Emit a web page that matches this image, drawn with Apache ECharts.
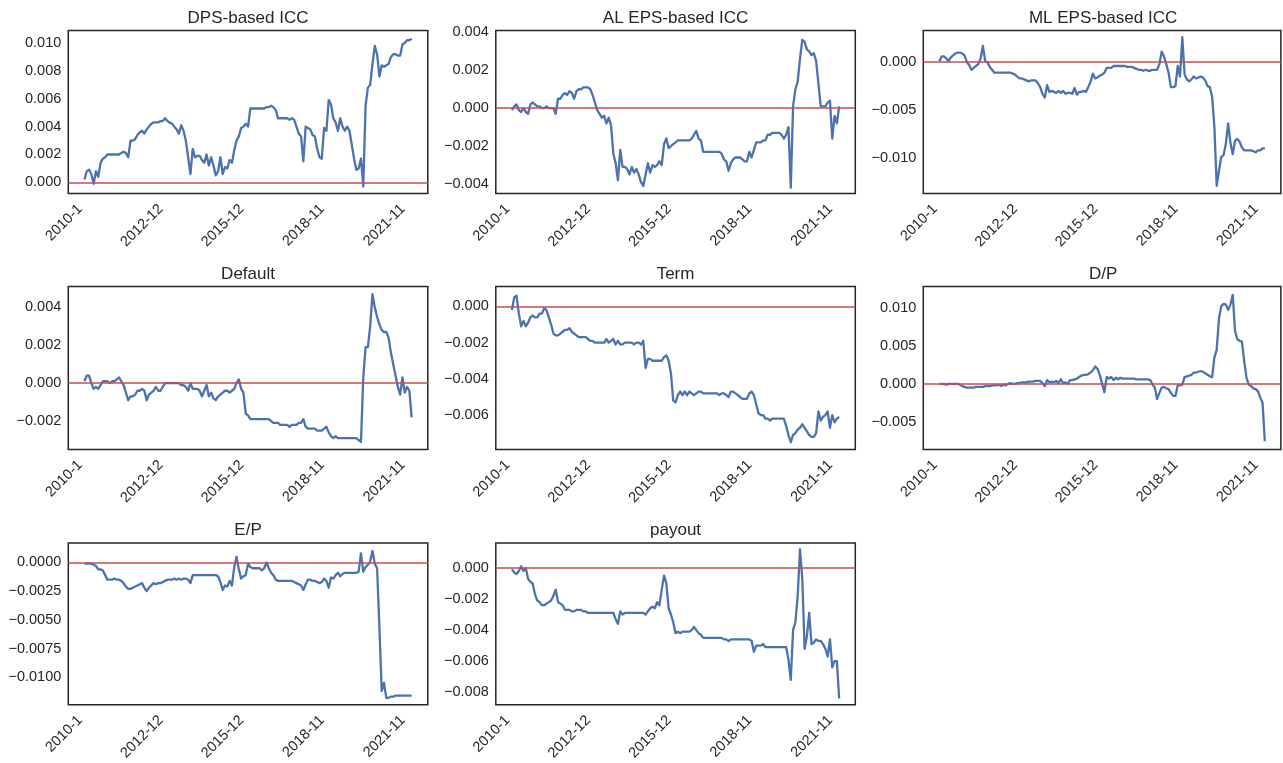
<!DOCTYPE html>
<html>
<head>
<meta charset="utf-8">
<script src="https://cdn.jsdelivr.net/npm/echarts@6/dist/echarts.min.js"></script>
<style>
  html, body { margin: 0; padding: 0; background: #ffffff; }
  #chart { width: 1283px; height: 763px; }
</style>
</head>
<body>
<div id="chart"></div>
<script>
// Monthly series, one value per month starting 2010-1 (143 observations).
const tickLabels = ['2010-1', '2012-12', '2015-12', '2018-11', '2021-11'];
const tickEvery = 35;

const dpsIcc = [
  0.0002, 0.0008, 0.0009, 0.0006, -0.0001, 0.0008, 0.0004, 0.0014, 0.0017, 0.0018,
  0.0020, 0.0020, 0.0020, 0.0020, 0.0020, 0.0020, 0.0021, 0.0022, 0.0021, 0.0018,
  0.0030, 0.0030, 0.0031, 0.0034, 0.0036, 0.0037, 0.0035, 0.0038, 0.0040, 0.0042,
  0.0043, 0.0043, 0.0043, 0.0044, 0.0044, 0.0046, 0.0044, 0.0043, 0.0042, 0.0040,
  0.0038, 0.0035, 0.0041, 0.0037, 0.0030, 0.0018, 0.0006, 0.0024, 0.0018, 0.0019,
  0.0019, 0.0016, 0.0014, 0.0020, 0.0012, 0.0018, 0.0012, 0.0005, 0.0008, 0.0018,
  0.0006, 0.0011, 0.0010, 0.0016, 0.0014, 0.0023, 0.0030, 0.0033, 0.0039, 0.0040,
  0.0042, 0.0040, 0.0053, 0.0053, 0.0053, 0.0053, 0.0053, 0.0053, 0.0053, 0.0054,
  0.0054, 0.0055, 0.0054, 0.0052, 0.0046, 0.0046, 0.0046, 0.0046, 0.0046, 0.0045,
  0.0046, 0.0045, 0.0040, 0.0035, 0.0033, 0.0015, 0.0040, 0.0039, 0.0038, 0.0034,
  0.0033, 0.0024, 0.0018, 0.0017, 0.0039, 0.0037, 0.0059, 0.0056, 0.0046, 0.0043,
  0.0037, 0.0046, 0.0040, 0.0037, 0.0040, 0.0037, 0.0027, 0.0017, 0.0009, 0.0010,
  0.0017, -0.0003, 0.0055, 0.0068, 0.0070, 0.0085, 0.0098, 0.0092, 0.0076, 0.0084,
  0.0083, 0.0084, 0.0085, 0.0090, 0.0092, 0.0092, 0.0091, 0.0091, 0.0099, 0.0100,
  0.0102, 0.0102, 0.0103
];

const alEpsIcc = [
  -0.0001, 0.0001, 0.0002, -0.0001, -0.0002, 0.0000, -0.0002, -0.0003, 0.0002, 0.0003,
  0.0002, 0.0001, 0.0001, 0.0000, 0.0000, 0.0001, 0.0000, 0.0000, 0.0000, -0.0003,
  0.0005, 0.0005, 0.0007, 0.0008, 0.0007, 0.0009, 0.0008, 0.0005, 0.0009, 0.0010,
  0.0010, 0.0011, 0.0011, 0.0011, 0.0010, 0.0007, 0.0003, -0.0001, -0.0003, -0.0005,
  -0.0004, -0.0008, -0.0005, -0.0009, -0.0024, -0.0029, -0.0038, -0.0022, -0.0031, -0.0031,
  -0.0032, -0.0035, -0.0031, -0.0034, -0.0032, -0.0035, -0.0039, -0.0041, -0.0035, -0.0029,
  -0.0034, -0.0030, -0.0031, -0.0030, -0.0028, -0.0030, -0.0019, -0.0016, -0.0021, -0.0020,
  -0.0019, -0.0018, -0.0017, -0.0017, -0.0017, -0.0017, -0.0017, -0.0017, -0.0016, -0.0014,
  -0.0012, -0.0016, -0.0017, -0.0023, -0.0023, -0.0023, -0.0023, -0.0023, -0.0023, -0.0023,
  -0.0023, -0.0024, -0.0027, -0.0028, -0.0033, -0.0029, -0.0027, -0.0026, -0.0026, -0.0026,
  -0.0027, -0.0028, -0.0028, -0.0023, -0.0026, -0.0022, -0.0018, -0.0018, -0.0018, -0.0017,
  -0.0017, -0.0014, -0.0014, -0.0013, -0.0013, -0.0013, -0.0013, -0.0014, -0.0016, -0.0014,
  -0.0010, -0.0042, 0.0001, 0.0010, 0.0014, 0.0026, 0.0036, 0.0035, 0.0031, 0.0030,
  0.0028, 0.0029, 0.0025, 0.0013, 0.0001, 0.0001, 0.0001, 0.0003, 0.0004, -0.0016,
  -0.0004, -0.0008, 0.0001
];

const mlEpsIcc = [
  0.0001, 0.0006, 0.0006, 0.0004, 0.0001, 0.0005, 0.0007, 0.0009, 0.0010, 0.0010,
  0.0009, 0.0007, 0.0000, -0.0003, -0.0008, -0.0006, -0.0004, -0.0002, 0.0004, 0.0017,
  0.0001, 0.0000, -0.0005, -0.0008, -0.0011, -0.0011, -0.0011, -0.0011, -0.0011, -0.0011,
  -0.0011, -0.0011, -0.0012, -0.0013, -0.0015, -0.0017, -0.0017, -0.0018, -0.0019, -0.0020,
  -0.0019, -0.0019, -0.0019, -0.0022, -0.0026, -0.0033, -0.0037, -0.0024, -0.0031, -0.0030,
  -0.0031, -0.0032, -0.0030, -0.0032, -0.0030, -0.0033, -0.0032, -0.0032, -0.0033, -0.0027,
  -0.0034, -0.0031, -0.0031, -0.0030, -0.0031, -0.0026, -0.0020, -0.0012, -0.0017, -0.0016,
  -0.0014, -0.0013, -0.0011, -0.0006, -0.0006, -0.0006, -0.0004, -0.0004, -0.0004, -0.0004,
  -0.0004, -0.0004, -0.0005, -0.0005, -0.0005, -0.0006, -0.0007, -0.0008, -0.0008, -0.0009,
  -0.0008, -0.0009, -0.0009, -0.0008, -0.0008, -0.0008, -0.0002, 0.0011, 0.0006, -0.0002,
  -0.0011, -0.0026, -0.0026, -0.0025, -0.0004, -0.0015, 0.0026, -0.0013, -0.0018, -0.0020,
  -0.0018, -0.0015, -0.0017, -0.0016, -0.0015, -0.0016, -0.0019, -0.0025, -0.0026, -0.0036,
  -0.0068, -0.0129, -0.0113, -0.0099, -0.0097, -0.0085, -0.0064, -0.0084, -0.0096, -0.0082,
  -0.0080, -0.0083, -0.0089, -0.0092, -0.0092, -0.0092, -0.0092, -0.0093, -0.0094, -0.0092,
  -0.0092, -0.0090, -0.0090
];

const defaultSpread = [
  0.0001, 0.0004, 0.0004, 0.0000, -0.0003, -0.0002, -0.0003, -0.0001, 0.0001, 0.0001,
  0.0001, 0.0000, 0.0001, 0.0001, 0.0002, 0.0003, 0.0001, -0.0001, -0.0005, -0.0009,
  -0.0007, -0.0007, -0.0006, -0.0004, -0.0004, -0.0003, -0.0004, -0.0009, -0.0006, -0.0005,
  -0.0004, -0.0002, -0.0004, -0.0004, -0.0002, 0.0000, 0.0000, 0.0000, 0.0000, 0.0000,
  0.0000, 0.0000, -0.0001, -0.0001, -0.0002, -0.0004, 0.0000, -0.0003, -0.0003, -0.0003,
  -0.0004, -0.0007, -0.0004, -0.0001, -0.0007, -0.0005, -0.0008, -0.0009, -0.0007, -0.0006,
  -0.0005, -0.0004, -0.0004, -0.0005, -0.0004, -0.0003, 0.0000, 0.0002, -0.0003, -0.0005,
  -0.0016, -0.0017, -0.0019, -0.0019, -0.0019, -0.0019, -0.0019, -0.0019, -0.0019, -0.0019,
  -0.0019, -0.0020, -0.0021, -0.0021, -0.0021, -0.0022, -0.0022, -0.0022, -0.0022, -0.0023,
  -0.0022, -0.0022, -0.0022, -0.0021, -0.0021, -0.0019, -0.0023, -0.0024, -0.0024, -0.0024,
  -0.0024, -0.0025, -0.0025, -0.0025, -0.0024, -0.0023, -0.0026, -0.0028, -0.0029, -0.0028,
  -0.0029, -0.0029, -0.0029, -0.0029, -0.0029, -0.0029, -0.0029, -0.0029, -0.0029, -0.0030,
  -0.0031, 0.0003, 0.0019, 0.0019, 0.0030, 0.0047, 0.0040, 0.0035, 0.0031, 0.0028,
  0.0027, 0.0027, 0.0024, 0.0016, 0.0010, 0.0004, -0.0002, -0.0006, 0.0003, -0.0005,
  -0.0002, -0.0004, -0.0018
];

const termSpread = [
  -0.0002, 0.0005, 0.0006, -0.0004, -0.0011, -0.0008, -0.0011, -0.0009, -0.0006, -0.0005,
  -0.0006, -0.0006, -0.0004, -0.0004, -0.0001, -0.0002, -0.0006, -0.0010, -0.0015, -0.0016,
  -0.0016, -0.0015, -0.0014, -0.0013, -0.0013, -0.0012, -0.0014, -0.0015, -0.0016, -0.0017,
  -0.0017, -0.0017, -0.0017, -0.0018, -0.0019, -0.0019, -0.0020, -0.0020, -0.0020, -0.0020,
  -0.0020, -0.0018, -0.0020, -0.0019, -0.0018, -0.0021, -0.0019, -0.0021, -0.0021, -0.0020,
  -0.0020, -0.0020, -0.0020, -0.0021, -0.0020, -0.0020, -0.0021, -0.0019, -0.0034, -0.0029,
  -0.0029, -0.0030, -0.0030, -0.0030, -0.0030, -0.0030, -0.0028, -0.0027, -0.0030, -0.0037,
  -0.0052, -0.0053, -0.0049, -0.0047, -0.0049, -0.0047, -0.0049, -0.0047, -0.0048, -0.0049,
  -0.0048, -0.0047, -0.0047, -0.0048, -0.0048, -0.0048, -0.0048, -0.0048, -0.0048, -0.0048,
  -0.0049, -0.0048, -0.0048, -0.0049, -0.0050, -0.0047, -0.0047, -0.0048, -0.0049, -0.0050,
  -0.0051, -0.0051, -0.0051, -0.0048, -0.0047, -0.0049, -0.0054, -0.0059, -0.0060, -0.0060,
  -0.0062, -0.0062, -0.0063, -0.0062, -0.0062, -0.0062, -0.0062, -0.0062, -0.0062, -0.0066,
  -0.0071, -0.0075, -0.0071, -0.0070, -0.0068, -0.0067, -0.0065, -0.0067, -0.0069, -0.0071,
  -0.0072, -0.0072, -0.0070, -0.0058, -0.0063, -0.0061, -0.0060, -0.0058, -0.0067, -0.0060,
  -0.0064, -0.0062, -0.0061
];

const dividendPrice = [
  0.0000, 0.0000, 0.0000, -0.0001, 0.0000, 0.0000, 0.0000, 0.0000, 0.0000, -0.0001,
  -0.0003, -0.0004, -0.0005, -0.0005, -0.0005, -0.0005, -0.0004, -0.0004, -0.0004, -0.0004,
  -0.0003, -0.0003, -0.0003, -0.0002, -0.0002, -0.0002, -0.0001, -0.0003, -0.0001, -0.0002,
  0.0000, 0.0001, 0.0000, 0.0000, 0.0001, 0.0001, 0.0002, 0.0002, 0.0002, 0.0003,
  0.0003, 0.0003, 0.0004, 0.0004, 0.0004, 0.0001, -0.0003, 0.0005, 0.0002, 0.0003,
  0.0002, 0.0004, 0.0001, 0.0006, 0.0001, 0.0002, 0.0000, 0.0005, 0.0005, 0.0006,
  0.0007, 0.0009, 0.0011, 0.0012, 0.0012, 0.0013, 0.0015, 0.0018, 0.0023, 0.0020,
  0.0012, 0.0000, -0.0011, 0.0009, 0.0007, 0.0009, 0.0005, 0.0008, 0.0006, 0.0008,
  0.0007, 0.0007, 0.0007, 0.0007, 0.0007, 0.0007, 0.0006, 0.0006, 0.0006, 0.0006,
  0.0006, 0.0006, 0.0005, -0.0001, -0.0005, -0.0020, -0.0012, -0.0005, -0.0004, -0.0006,
  -0.0007, -0.0012, -0.0016, -0.0016, -0.0002, -0.0002, -0.0001, 0.0009, 0.0010, 0.0011,
  0.0012, 0.0015, 0.0015, 0.0016, 0.0017, 0.0016, 0.0014, 0.0012, 0.0010, 0.0009,
  0.0035, 0.0045, 0.0087, 0.0103, 0.0106, 0.0105, 0.0098, 0.0105, 0.0118, 0.0070,
  0.0059, 0.0057, 0.0056, 0.0030, 0.0008, -0.0001, -0.0003, -0.0006, -0.0007, -0.0010,
  -0.0018, -0.0025, -0.0076
];

const earningsPrice = [
  -0.0001, -0.0001, -0.0001, -0.0001, -0.0002, -0.0003, -0.0006, -0.0006, -0.0007, -0.0011,
  -0.0015, -0.0015, -0.0015, -0.0014, -0.0015, -0.0015, -0.0016, -0.0018, -0.0021, -0.0023,
  -0.0023, -0.0022, -0.0021, -0.0020, -0.0019, -0.0018, -0.0022, -0.0025, -0.0022, -0.0020,
  -0.0018, -0.0019, -0.0018, -0.0018, -0.0017, -0.0016, -0.0015, -0.0015, -0.0015, -0.0014,
  -0.0015, -0.0014, -0.0015, -0.0014, -0.0014, -0.0015, -0.0018, -0.0011, -0.0011, -0.0011,
  -0.0011, -0.0011, -0.0011, -0.0011, -0.0011, -0.0011, -0.0011, -0.0011, -0.0012, -0.0017,
  -0.0024, -0.0020, -0.0021, -0.0016, -0.0020, -0.0004, 0.0005, -0.0006, -0.0014, -0.0012,
  -0.0011, -0.0001, -0.0004, -0.0005, -0.0005, -0.0005, -0.0005, -0.0007, -0.0005, 0.0000,
  -0.0005, -0.0009, -0.0011, -0.0015, -0.0016, -0.0016, -0.0016, -0.0016, -0.0016, -0.0016,
  -0.0016, -0.0017, -0.0018, -0.0019, -0.0020, -0.0024, -0.0019, -0.0015, -0.0015, -0.0016,
  -0.0016, -0.0017, -0.0018, -0.0017, -0.0014, -0.0016, -0.0022, -0.0013, -0.0014, -0.0011,
  -0.0009, -0.0012, -0.0010, -0.0009, -0.0009, -0.0009, -0.0009, -0.0009, -0.0009, -0.0008,
  0.0008, -0.0008, -0.0004, -0.0002, 0.0001, 0.0010, -0.0001, -0.0005, -0.0056, -0.0112,
  -0.0105, -0.0118, -0.0118, -0.0117, -0.0117, -0.0116, -0.0116, -0.0116, -0.0116, -0.0116,
  -0.0116, -0.0116, -0.0116
];

const payoutRatio = [
  -0.0001, -0.0003, -0.0004, -0.0002, 0.0001, -0.0002, 0.0000, -0.0007, -0.0009, -0.0010,
  -0.0017, -0.0021, -0.0022, -0.0024, -0.0024, -0.0023, -0.0022, -0.0021, -0.0018, -0.0014,
  -0.0022, -0.0023, -0.0024, -0.0027, -0.0027, -0.0027, -0.0028, -0.0028, -0.0027, -0.0027,
  -0.0027, -0.0028, -0.0028, -0.0029, -0.0029, -0.0029, -0.0029, -0.0029, -0.0029, -0.0029,
  -0.0029, -0.0029, -0.0029, -0.0029, -0.0029, -0.0033, -0.0036, -0.0028, -0.0030, -0.0029,
  -0.0029, -0.0029, -0.0029, -0.0029, -0.0029, -0.0029, -0.0029, -0.0029, -0.0030, -0.0028,
  -0.0026, -0.0025, -0.0026, -0.0022, -0.0024, -0.0014, -0.0005, -0.0010, -0.0026, -0.0030,
  -0.0035, -0.0042, -0.0041, -0.0042, -0.0041, -0.0041, -0.0041, -0.0041, -0.0040, -0.0038,
  -0.0040, -0.0042, -0.0043, -0.0045, -0.0045, -0.0045, -0.0045, -0.0045, -0.0045, -0.0045,
  -0.0045, -0.0045, -0.0046, -0.0046, -0.0047, -0.0046, -0.0046, -0.0046, -0.0046, -0.0046,
  -0.0046, -0.0046, -0.0046, -0.0046, -0.0047, -0.0054, -0.0050, -0.0050, -0.0050, -0.0049,
  -0.0051, -0.0051, -0.0051, -0.0051, -0.0051, -0.0051, -0.0051, -0.0051, -0.0051, -0.0051,
  -0.0059, -0.0072, -0.0040, -0.0035, -0.0018, 0.0012, -0.0007, -0.0052, -0.0044, -0.0029,
  -0.0049, -0.0048, -0.0046, -0.0047, -0.0047, -0.0049, -0.0052, -0.0057, -0.0046, -0.0064,
  -0.0060, -0.0060, -0.0084
];

// Panel definitions: title, series, value range of the y axis, label step and decimals.
const panels = [
  { title: 'DPS-based ICC',    values: dpsIcc,        lo: -0.0008, hi: 0.0109, step: 0.002,  dec: 3 },
  { title: 'AL EPS-based ICC', values: alEpsIcc,      lo: -0.0045, hi: 0.0041, step: 0.002,  dec: 3 },
  { title: 'ML EPS-based ICC', values: mlEpsIcc,      lo: -0.0137, hi: 0.0033, step: 0.005,  dec: 3 },
  { title: 'Default',          values: defaultSpread, lo: -0.0035, hi: 0.0051, step: 0.002,  dec: 3 },
  { title: 'Term',             values: termSpread,    lo: -0.0079, hi: 0.0011, step: 0.002,  dec: 3 },
  { title: 'D/P',              values: dividendPrice, lo: -0.0087, hi: 0.0129, step: 0.005,  dec: 3 },
  { title: 'E/P',              values: earningsPrice, lo: -0.0124, hi: 0.0017, step: 0.0025, dec: 4 },
  { title: 'payout',           values: payoutRatio,   lo: -0.0088, hi: 0.0016, step: 0.002,  dec: 3 }
];

// 3 x 3 subplot geometry (pixels)
const colLeft = [68.3, 495.8, 923.3];
const rowTop = [30.5, 286.5, 543];
const boxW = 359.5;
const boxH = 163;

const INK = '#262626';
const BLUE = '#4C72B0';
const RED = '#C44E52';
const FONT = '"Liberation Sans", Arial, "DejaVu Sans", sans-serif';
const FINE = 0.0001;

const grids = [], xAxes = [], yAxes = [], series = [], titles = [];

panels.forEach((p, k) => {
  const r = Math.floor(k / 3), c = k % 3;
  const left = colLeft[c], top = rowTop[r];
  grids.push({
    left: left, top: top, width: boxW, height: boxH,
    show: true, borderColor: INK, borderWidth: 1.5, backgroundColor: '#ffffff'
  });
  titles.push({
    text: p.title, left: left + boxW / 2, top: top - 21, textAlign: 'center', padding: 0,
    textStyle: { fontFamily: FONT, fontSize: 17, fontWeight: 'normal', color: INK }
  });
  const n = p.values.length;
  const pad = 0.05 * (n - 1);
  xAxes.push({
    gridIndex: k, type: 'value', min: -7, max: Math.round((n - 1) + pad), interval: 7,
    axisLine: { show: false }, axisTick: { show: false }, splitLine: { show: false },
    axisLabel: {
      rotate: 45, margin: 9, padding: [0, 6, 0, 0], fontFamily: FONT, fontSize: 14.5, color: INK,
      showMinLabel: true, showMaxLabel: true,
      formatter: v => {
        const i = Math.round(v);
        if (Math.abs(v - i) > 1e-6 || i < 0 || i % tickEvery !== 0) return '';
        const t = tickLabels[i / tickEvery];
        return t === undefined ? '' : t;
      }
    }
  });
  const yMin = Math.floor(p.lo / FINE + 1e-9) * FINE;
  const yMax = Math.ceil(p.hi / FINE - 1e-9) * FINE;
  yAxes.push({
    gridIndex: k, type: 'value', min: yMin, max: yMax, interval: FINE,
    axisLine: { show: false }, axisTick: { show: false }, splitLine: { show: false },
    axisLabel: {
      margin: 7, fontFamily: FONT, fontSize: 14.5, color: INK,
      showMinLabel: true, showMaxLabel: true,
      formatter: v => {
        const q = v / p.step;
        if (Math.abs(q - Math.round(q)) > 1e-6) return '';
        const s = (Math.round(q) * p.step).toFixed(p.dec);
        return s.charAt(0) === '-' ? '\u2212' + s.slice(1) : s;
      }
    }
  });
  series.push({
    type: 'line', xAxisIndex: k, yAxisIndex: k,
    data: p.values.map((v, i) => [i, v]),
    showSymbol: false, symbol: 'none', silent: true, animation: false,
    lineStyle: { color: BLUE, width: 2.3, join: 'round' },
    z: 2,
    markLine: {
      silent: true, symbol: 'none', animation: false,
      label: { show: false },
      lineStyle: { color: RED, width: 1.5, type: 'solid' },
      data: [{ yAxis: 0 }]
    }
  });
});

const chart = echarts.init(document.getElementById('chart'), null, { renderer: 'canvas' });
chart.setOption({
  backgroundColor: '#ffffff',
  animation: false,
  title: titles,
  grid: grids,
  xAxis: xAxes,
  yAxis: yAxes,
  series: series
});
</script>
</body>
</html>
